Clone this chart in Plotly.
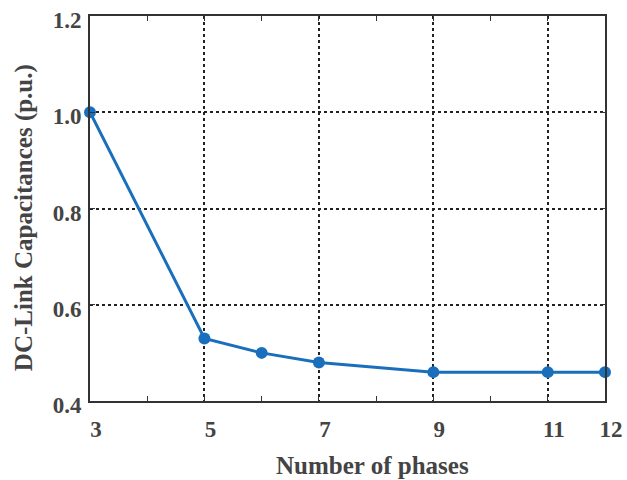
import plotly.graph_objects as go

phases = [3, 5, 6, 7, 9, 11, 12]
capacitance = [1.0, 0.53, 0.50, 0.48, 0.46, 0.46, 0.46]
x_ticks = [3, 5, 7, 9, 11, 12]
y_ticks = [0.4, 0.6, 0.8, 1.0, 1.2]

font_family = "Liberation Serif"
text_color = "#444444"
frame_color = "#333333"

fig = go.Figure()
fig.add_trace(go.Scatter(
    x=phases, y=capacitance, mode="lines+markers",
    line=dict(color="#1a6fbd", width=3),
    marker=dict(color="#1a6fbd", size=12),
    showlegend=False, cliponaxis=False, hoverinfo="skip",
))

common = dict(
    showline=True, linecolor=frame_color, linewidth=2, mirror="allticks",
    ticks="inside", ticklen=5, tickcolor=frame_color, tickwidth=1,
    showgrid=True, gridcolor="#222222", gridwidth=2, griddash="dot",
    zeroline=False, ticklabeloverflow="allow", automargin=False,
    tickfont=dict(family=font_family, size=23, color=text_color, weight="bold"),
)

fig.update_xaxes(
    range=[3, 12], tickvals=x_ticks,
    ticktext=[str(v) for v in x_ticks],
    minor=dict(ticks="inside", ticklen=5, tick0=3, dtick=1, tickcolor=frame_color, showgrid=False),
    ticklabelstandoff=6, ticklabelshift=6,
    **common,
)
fig.update_yaxes(
    range=[0.4, 1.2], tickvals=y_ticks,
    ticktext=[f"{v:.1f}" for v in y_ticks],
    ticklabelstandoff=2, ticklabelshift=4,
    **common,
)

title_font = dict(family=font_family, size=25, color=text_color, weight="bold")
fig.add_annotation(text="Number of phases", xref="paper", yref="paper",
                   x=0.5495, y=0, yshift=-64, showarrow=False,
                   xanchor="center", yanchor="middle", font=title_font)
fig.add_annotation(text="DC-Link Capacitances (p.u.)", xref="paper", yref="paper",
                   x=0, y=0.475, xshift=-66, showarrow=False, textangle=-90,
                   xanchor="center", yanchor="middle", font=title_font)

fig.update_layout(
    width=627, height=480,
    margin=dict(l=90, r=22, t=16, b=79, autoexpand=False),
    plot_bgcolor="white", paper_bgcolor="white",
    hovermode=False,
)

fig.write_html("out.html", config={"displayModeBar": False, "staticPlot": True},
               post_script="document.body.style.margin='0';document.body.style.overflow='hidden';")
